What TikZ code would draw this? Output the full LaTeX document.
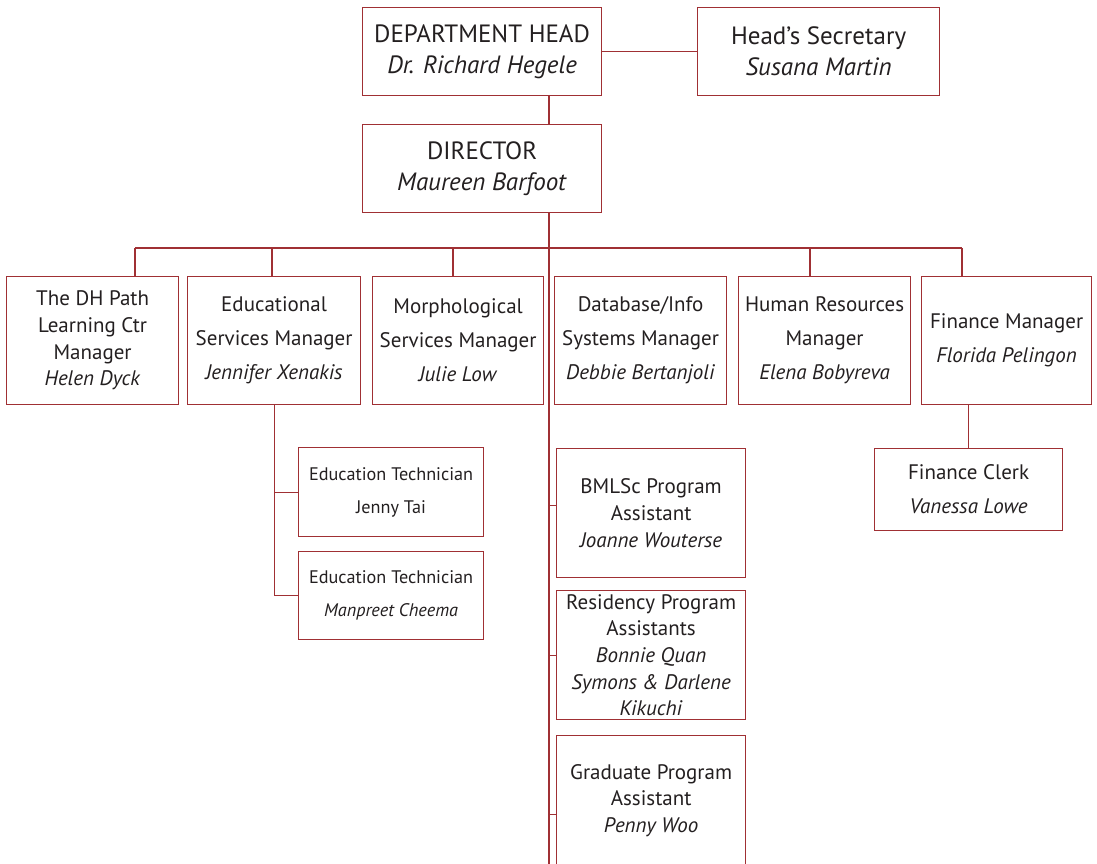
\documentclass[tikz,border=0pt]{standalone}
\usepackage{fontspec}
\setmainfont{PT Sans}
\definecolor{chartred}{RGB}{160,48,52}
\definecolor{inkgrey}{RGB}{35,31,32}
\tikzset{
  unit/.style={draw=chartred, line width=1.2pt, text=inkgrey, align=center, inner sep=0pt, anchor=north west},
  headbox/.style={unit, font=\fontsize{25}{31}\selectfont},
  mgrbox/.style={unit, font=\fontsize{21}{26.7}\selectfont},
  widebox/.style={unit, font=\fontsize{21}{34}\selectfont},
  techbox/.style={unit, font=\fontsize{18.2}{33}\selectfont},
  link/.style={draw=chartred, line width=1.2pt}
}
\begin{document}
\begin{tikzpicture}[x=1pt,y=-1pt]
        \useasboundingbox (0,0) rectangle (1097,864);
        \clip (0,0) rectangle (1097,864);

        % Top row
        \node[headbox, minimum width=239pt, minimum height=88pt] (head) at (362,7) {DEPARTMENT HEAD\\\textit{Dr. Richard Hegele}};
        \node[headbox, minimum width=242pt, minimum height=88pt] (sec) at (697,7) {Head’s Secretary\\\textit{Susana Martin}};
        \node[headbox, minimum width=239pt, minimum height=88pt] (dir) at (362,124) {DIRECTOR\\\textit{Maureen Barfoot}};
        \draw[link] (head.east) -- (sec.west);

        % Spine
        \coordinate (spine) at (549,95);
        \coordinate (spineend) at (549,870);
        \draw[link] (spine) -- (spine |- dir.north);
        \draw[link] (spine |- dir.south) -- (spineend);

        % Managers
        \node[mgrbox, minimum width=172pt, minimum height=128pt] (m1) at (6,276) {The DH Path\\Learning Ctr\\Manager\\\textit{Helen Dyck}};
        \node[widebox, minimum width=173pt, minimum height=128pt] (m2) at (187,276) {Educational\\Services Manager\\\textit{Jennifer Xenakis}};
        \node[widebox, minimum width=171pt, minimum height=128pt] (m3) at (372,276) {Morphological\\Services Manager\\\textit{Julie Low}};
        \node[widebox, minimum width=172pt, minimum height=128pt] (m4) at (554,276) {Database/Info\\Systems Manager\\\textit{Debbie Bertanjoli}};
        \node[widebox, minimum width=172pt, minimum height=128pt] (m5) at (738,276) {Human Resources\\Manager\\\textit{Elena Bobyreva}};
        \node[widebox, minimum width=170pt, minimum height=128pt] (m6) at (921,276) {Finance Manager\\\textit{Florida Pelingon}};

        % Bus and drops
        \coordinate (busl) at (135,248);
        \coordinate (busr) at (962,248);
        \draw[link] (busl) -- (busr);
        \foreach \x/\m in {135/m1, 272/m2, 453/m3, 810/m5, 962/m6}
          \path (\x,248) coordinate (drop) [link] (drop) -- (drop |- \m.north);

        % Education technicians
        \node[techbox, minimum width=185pt, minimum height=89pt] (et1) at (298,447) {Education Technician\\Jenny Tai};
        \node[techbox, minimum width=185pt, minimum height=88pt] (et2) at (298,551) {Education Technician\\\textit{Manpreet Cheema}};
        \draw[link] (m2.south) |- (et2.west);
        \draw[link] (m2.south |- et1.west) -- (et1.west);

        % Program assistants
        \node[mgrbox, minimum width=189pt, minimum height=129pt] (bmlsc) at (556,448) {BMLSc Program\\Assistant\\\textit{Joanne Wouterse}};
        \node[mgrbox, minimum width=189pt, minimum height=129pt] (resid) at (556,590) {Residency Program\\Assistants\\\textit{Bonnie Quan}\\\textit{Symons \& Darlene}\\\textit{Kikuchi}};
        \node[mgrbox, minimum width=189pt, minimum height=130pt] (grad) at (556,735) {Graduate Program\\Assistant\\\textit{Penny Woo}};
        \coordinate (bmlscin) at ([yshift=8pt]bmlsc.west);
        \coordinate (gradin) at ([yshift=-14pt]grad.west);
        \draw[link] (spine |- bmlscin) -- (bmlscin);
        \draw[link] (spine |- resid.west) -- (resid.west);
        \draw[link] (spine |- gradin) -- (gradin);

        % Finance clerk
        \node[widebox, minimum width=188pt, minimum height=82pt] (clerk) at (874,448) {Finance Clerk\\\textit{Vanessa Lowe}};
        \draw[link] (m6.south -| clerk.north) -- (clerk.north);
    \end{tikzpicture}
\end{document}
